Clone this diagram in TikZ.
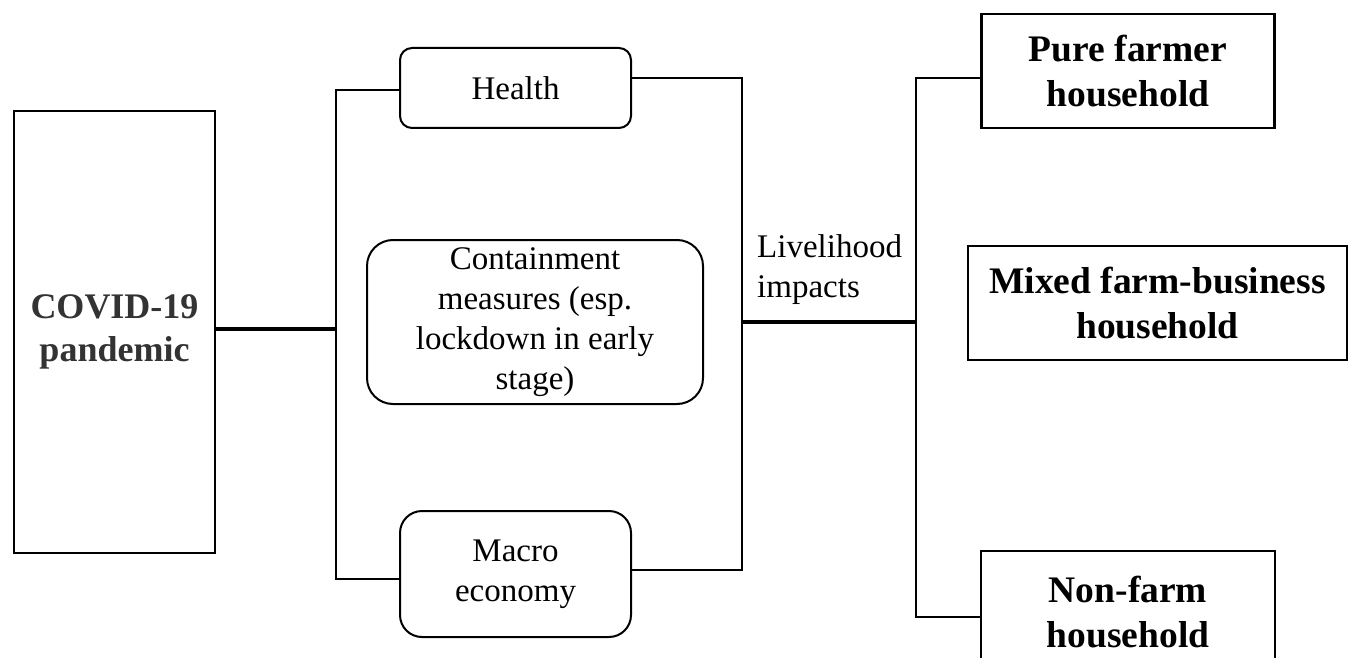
\documentclass[tikz,border=0pt]{standalone}
\usepackage{fontspec}
\setmainfont{Liberation Serif}
\usepackage{tikz}

\begin{document}
\begin{tikzpicture}[x=1pt, y=-1pt,
    plainbox/.style={rectangle, draw, line width=2.3pt, inner sep=0pt, align=center, font=\fontsize{37.5}{45}\selectfont\bfseries},
    roundbox/.style={rectangle, rounded corners=#1, draw, line width=2pt, inner sep=0pt, align=center, font=\fontsize{33}{40}\selectfont},
    roundbox/.default=12pt,
    link/.style={line width=2pt},
    mainlink/.style={line width=4.5pt}]
    \useasboundingbox (0,0) rectangle (1349,658);
    \clip (0,0) rectangle (1349,658);

    \node at (114.5,332) [plainbox, minimum width=201pt, minimum height=442pt, text=black!80, font=\fontsize{36}{43}\selectfont\bfseries] (Covid) {COVID-19\\pandemic};

    \node at (515.5,88) [roundbox=12pt, minimum width=231pt, minimum height=80pt] (Health) {Health};
    \node at (535,322) [roundbox=26pt, minimum width=336pt, minimum height=164pt] (Containment) {Containment\\measures (esp.\\lockdown in early\\stage)};
    \node at (515.5,574) [roundbox=22pt, minimum width=231pt, minimum height=126pt] (Macro) {Macro\\economy};

    \node at (757,234) [anchor=north west, inner sep=0pt, align=left, font=\fontsize{33}{40}\selectfont] (Livelihood) {Livelihood\\impacts};

    \node at (1128,71) [plainbox, minimum width=293pt, minimum height=114pt] (PureFarmer) {Pure farmer\\household};
    \node at (1157.5,303) [plainbox, minimum width=379pt, minimum height=114pt] (MixedFarm) {Mixed farm-business\\household};
    \node at (1128,612) [plainbox, minimum width=294pt, minimum height=122pt] (NonFarm) {Non-farm\\household};

    \coordinate (LeftBus) at (336,329);
    \coordinate (RightBus) at (742,322);
    \coordinate (HouseBus) at (916,322);

    \draw[mainlink] (Covid.east |- LeftBus) -- (LeftBus);
    \draw[link] ([yshift=-2pt]Health.west) -| (LeftBus) |- ([yshift=-5pt]Macro.west);
    \draw[link] ([yshift=10pt]Health.east) -| (RightBus) |- ([yshift=4pt]Macro.east);
    \draw[mainlink] (RightBus) -- (HouseBus);
    \draw[link] ([yshift=-7pt]PureFarmer.west) -| (HouseBus) |- ([yshift=-5pt]NonFarm.west);
\end{tikzpicture}
\end{document}
